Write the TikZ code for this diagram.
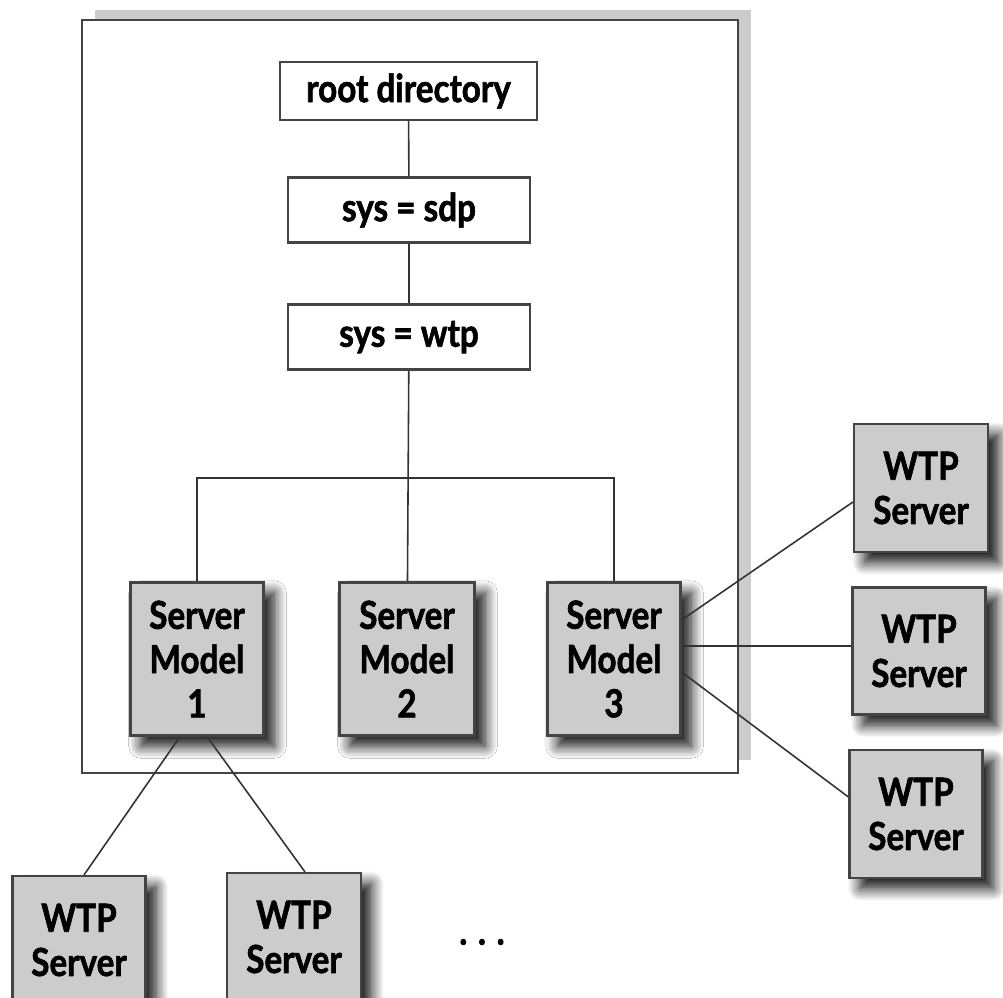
\documentclass[tikz,border=0pt]{standalone}
\usepackage{fontspec}
\setmainfont{Lato}[FakeStretch=0.86, BoldFeatures={FakeBold=1.6}]
\usepackage{tikz}
\usetikzlibrary{calc}
\usetikzlibrary{positioning}
\usetikzlibrary{shadows.blur}
\usepackage{xcolor}
\definecolor{boxgray}{HTML}{CCCCCC}
\definecolor{edgegray}{HTML}{444444}

\begin{document}
\begin{tikzpicture}[x=0.1mm, y=-0.1mm,
					dirbox/.style={rectangle, draw=edgegray, line width=0.6pt, fill=white, font=\bfseries\fontsize{11}{13}\selectfont, inner sep=0pt},
					srvbox/.style={rectangle, draw=edgegray, line width=0.6pt, fill=boxgray, align=center, font=\bfseries\fontsize{11}{12.6}\selectfont, inner sep=0pt,
						blur shadow={shadow xshift=3pt, shadow yshift=-3pt, shadow blur radius=3.5pt, shadow blur steps=10, shadow opacity=95}},
					link/.style={draw=black!80, line width=0.45pt}
					]
					\clip (0,0) rectangle (1003,997);
					
					%Frame
					\fill[boxgray] (95,10) rectangle (751,760);
					\draw[edgegray, line width=0.7pt, fill=white] (82,20) rectangle (738,773);
					
					%Nodes
					\node[dirbox, minimum width=25.7mm, minimum height=5.8mm] (root) at (408.5, 91)  {root directory};
					\node[dirbox, minimum width=24.2mm, minimum height=6.5mm] (sdp)  at (409, 210)   {sys = sdp};
					\node[dirbox, minimum width=24.2mm, minimum height=6.5mm] (wtp)  at (409, 337)   {sys = wtp};
					
					\node[srvbox, minimum width=13.3mm, minimum height=15.3mm] (sm1) at (197, 659) {Server\\Model\\1};
					\node[srvbox, minimum width=13.5mm, minimum height=15.3mm] (sm2) at (407, 659) {Server\\Model\\2};
					\node[srvbox, minimum width=13.3mm, minimum height=15.3mm] (sm3) at (614, 659) {Server\\Model\\3};
					
					\node[srvbox, minimum width=13.4mm, minimum height=12.8mm] (ws1) at (921, 488) {WTP\\Server};
					\node[srvbox, minimum width=13.3mm, minimum height=12.7mm] (ws2) at (919, 651) {WTP\\Server};
					\node[srvbox, minimum width=13.3mm, minimum height=12.8mm] (ws3) at (916, 814) {WTP\\Server};
					\node[srvbox, minimum width=13.3mm, minimum height=12.8mm] (wb1) at (79, 940)  {WTP\\Server};
					\node[srvbox, minimum width=13.4mm, minimum height=12.8mm] (wb2) at (294, 937) {WTP\\Server};
					
					\node[font=\bfseries\fontsize{11}{13}\selectfont] (dots) at (482, 942) {. . .};
					
					%Lines
					\coordinate (bus) at (409, 478);
					\draw[link] (root) to (sdp);
					\draw[link] (sdp) to (wtp);
					\draw[link] (wtp) to (sm2);
					\draw[link] (sm1.north) |- (bus) -| (sm3.north);
					\draw[link] ($(sm3.east)+(0,-39)$) to ($(ws1.west)+(0,14)$);
					\draw[link] ($(sm3.east)+(0,-13)$) to ($(ws2.west)+(0,-5)$);
					\draw[link] ($(sm3.east)+(0,13)$)  to ($(ws3.west)+(0,-17)$);
					\draw[link] ($(sm1.south)+(-17,0)$) to ($(wb1.north)+(5,0)$);
					\draw[link] ($(sm1.south)+(10,0)$)  to ($(wb2.north)+(11,0)$);
				\end{tikzpicture}
\end{document}
